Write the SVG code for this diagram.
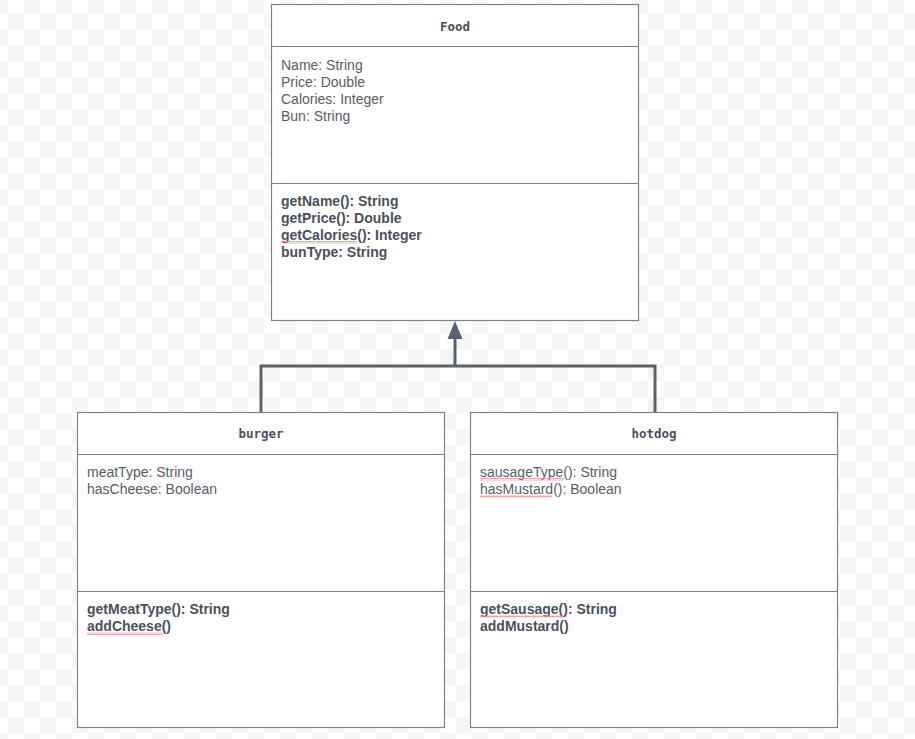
<svg xmlns="http://www.w3.org/2000/svg" width="915" height="739" viewBox="0 0 915 739">
<defs>
<pattern id="bg" x="8" y="13" width="32" height="32" patternUnits="userSpaceOnUse">
<rect width="32" height="32" fill="#ffffff"/>
<rect width="16" height="16" fill="#f6f6f6"/>
<rect x="16" y="16" width="16" height="16" fill="#f6f6f6"/>
</pattern>
<pattern id="wave" x="0" y="0" width="4" height="3" patternUnits="userSpaceOnUse">
<path d="M0,2.5 L1,0.5 L2,2.5 L3,0.5 L4,2.5" fill="none" stroke="#e89090" stroke-width="0.8"/>
</pattern>
</defs>
<style>
.box{fill:#ffffff;stroke:#7d838b;stroke-width:1.2}
.div{stroke:#7d838b;stroke-width:1.2}
.title{font-family:"DejaVu Sans Mono","Liberation Mono",monospace;font-weight:bold;font-size:12.5px;fill:#4b515a;text-anchor:middle}
.attr{font-family:"Liberation Sans",Arial,sans-serif;font-size:14px;fill:#585d65}
.meth{font-family:"Liberation Sans",Arial,sans-serif;font-size:14px;font-weight:bold;fill:#4b515a}
.conn{fill:none;stroke:#5a636d;stroke-width:3}
.head{fill:#5a636d}
.sq{fill:url(#wave)}
</style>
<rect width="915" height="739" fill="url(#bg)"/>
<g id="connectors">
<polyline class="conn" points="261,412 261,366 655,366 655,412"/>
<line class="conn" x1="455" y1="366" x2="455" y2="336"/>
<polygon class="head" points="455,321 462.5,339 447.5,339"/>
</g>
<g id="food">
<rect class="box" x="271.5" y="4.5" width="367" height="316"/>
<line class="div" x1="271.5" y1="46.5" x2="638.5" y2="46.5"/>
<line class="div" x1="271.5" y1="183.5" x2="638.5" y2="183.5"/>
<text class="title" x="455" y="31">Food</text>
<text class="attr" x="281" y="70">Name: String</text>
<text class="attr" x="281" y="87">Price: Double</text>
<text class="attr" x="281" y="104">Calories: Integer</text>
<text class="attr" x="281" y="121">Bun: String</text>
<text class="meth" x="281" y="206">getName(): String</text>
<text class="meth" x="281" y="223">getPrice(): Double</text>
<text class="meth" x="281" y="240">getCalories(): Integer</text>
<text class="meth" x="281" y="257">bunType: String</text>
<rect class="sq" x="281" y="241" width="76" height="3"/>
</g>
<g id="burger">
<rect class="box" x="77.5" y="412.5" width="367" height="315"/>
<line class="div" x1="77.5" y1="454.5" x2="444.5" y2="454.5"/>
<line class="div" x1="77.5" y1="591.5" x2="444.5" y2="591.5"/>
<text class="title" x="261" y="438">burger</text>
<text class="attr" x="87" y="477">meatType: String</text>
<text class="attr" x="87" y="494">hasCheese: Boolean</text>
<text class="meth" x="87" y="614">getMeatType(): String</text>
<text class="meth" x="87" y="631">addCheese()</text>
<rect class="sq" x="87" y="632" width="76" height="3"/>
</g>
<g id="hotdog">
<rect class="box" x="470.5" y="412.5" width="367" height="315"/>
<line class="div" x1="470.5" y1="454.5" x2="837.5" y2="454.5"/>
<line class="div" x1="470.5" y1="591.5" x2="837.5" y2="591.5"/>
<text class="title" x="654" y="438">hotdog</text>
<text class="attr" x="480" y="477">sausageType(): String</text>
<text class="attr" x="480" y="494">hasMustard(): Boolean</text>
<text class="meth" x="480" y="614">getSausage(): String</text>
<text class="meth" x="480" y="631">addMustard()</text>
<rect class="sq" x="480" y="478" width="84" height="3"/>
<rect class="sq" x="480" y="495" width="72" height="3"/>
<rect class="sq" x="480" y="615" width="84" height="3"/>
</g>
</svg>
